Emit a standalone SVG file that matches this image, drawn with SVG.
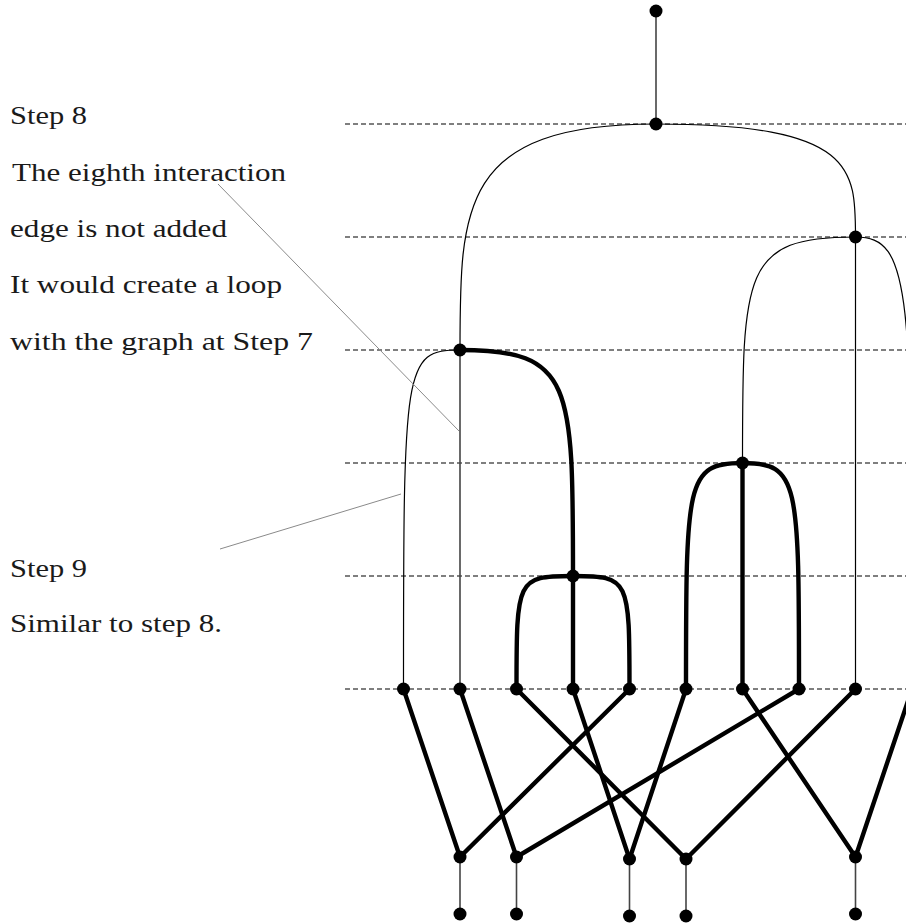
<svg xmlns="http://www.w3.org/2000/svg" width="906" height="923" viewBox="0 0 906 923">
<style>
.dash{stroke:#000;stroke-width:1.2;stroke-dasharray:5 3;fill:none}
.thin{stroke:#000;stroke-width:1.2;fill:none}
.vthin{stroke:#444;stroke-width:1.6;fill:none}
.thick{stroke:#000;stroke-width:4.4;fill:none;stroke-linecap:round}
.note{stroke:#8a8a8a;stroke-width:1;fill:none}
.dot{fill:#000}
text{font-family:"Liberation Serif","Times New Roman",serif;font-size:26px;fill:#1a1a1a}
</style>
<rect width="906" height="923" fill="#fff"/>
<g id="levels">
<line class="dash" x1="345" y1="124" x2="906" y2="124"/>
<line class="dash" x1="345" y1="237" x2="906" y2="237"/>
<line class="dash" x1="345" y1="350" x2="906" y2="350"/>
<line class="dash" x1="345" y1="463" x2="906" y2="463"/>
<line class="dash" x1="345" y1="576" x2="906" y2="576"/>
<line class="dash" x1="345" y1="689" x2="906" y2="689"/>
</g>
<g id="connectors">
<line class="vthin" x1="656" y1="11" x2="656" y2="124"/>
<path class="thin" d="M656,124 C460,124 460,207 460,350"/>
<path class="thin" d="M656,124 C855.5,124 855.5,169 855.5,237"/>
<path class="thin" d="M855.5,237 C742.5,237 742.5,271 742.5,463"/>
<path class="thin" d="M855.5,237 C912,237 912,291 912,689"/>
<line class="thin" x1="855.5" y1="237" x2="855.5" y2="689"/>
<line class="vthin" x1="460" y1="350" x2="460" y2="689"/>
<path class="thin" d="M460,350 C403.5,350 403.5,364 403.5,689"/>
<path class="thick" d="M460,350 C573,350 573,384 573,576"/>
<path class="thick" d="M573,576 C516.5,576 516.5,579 516.5,689"/>
<path class="thick" d="M573,576 C629.5,576 629.5,579 629.5,689"/>
<line class="thick" x1="573" y1="576" x2="573" y2="689"/>
<path class="thick" d="M742.5,463 C686,463 686,481 686,689"/>
<path class="thick" d="M742.5,463 C799,463 799,481 799,689"/>
<line class="thick" x1="742.5" y1="463" x2="742.5" y2="689"/>
<line class="thick" x1="403.5" y1="689" x2="460" y2="857"/>
<line class="thick" x1="460" y1="689" x2="516.5" y2="857"/>
<line class="thick" x1="516.5" y1="689" x2="686" y2="859"/>
<line class="thick" x1="573" y1="689" x2="629.5" y2="859"/>
<line class="thick" x1="629.5" y1="689" x2="460" y2="857"/>
<line class="thick" x1="686" y1="689" x2="629.5" y2="859"/>
<line class="thick" x1="742.5" y1="689" x2="855.5" y2="857"/>
<line class="thick" x1="799" y1="689" x2="516.5" y2="857"/>
<line class="thick" x1="855.5" y1="689" x2="686" y2="859"/>
<line class="thick" x1="912" y1="689" x2="855.5" y2="857"/>
<line class="vthin" x1="460" y1="857" x2="460" y2="914"/>
<line class="vthin" x1="516.5" y1="857" x2="516.5" y2="914"/>
<line class="vthin" x1="629.5" y1="859" x2="629.5" y2="916"/>
<line class="vthin" x1="686" y1="859" x2="686" y2="916"/>
<line class="vthin" x1="855.5" y1="857" x2="855.5" y2="914"/>
</g>
<g id="annotations">
<line class="note" x1="218" y1="184" x2="459" y2="431"/>
<line class="note" x1="220" y1="549" x2="401" y2="494"/>
</g>
<g id="n-top"><circle class="dot" cx="656" cy="11" r="6.5"/></g>
<g id="n-root"><circle class="dot" cx="656" cy="124" r="6.5"/></g>
<g id="n-l2"><circle class="dot" cx="855.5" cy="237" r="6.5"/></g>
<g id="n-l3"><circle class="dot" cx="460" cy="350" r="6.5"/></g>
<g id="n-l4"><circle class="dot" cx="742.5" cy="463" r="6.5"/></g>
<g id="n-l5"><circle class="dot" cx="573" cy="576" r="6.5"/></g>
<g id="n-a1"><circle class="dot" cx="403.5" cy="689" r="6.5"/></g>
<g id="n-a2"><circle class="dot" cx="460" cy="689" r="6.5"/></g>
<g id="n-a3"><circle class="dot" cx="516.5" cy="689" r="6.5"/></g>
<g id="n-a4"><circle class="dot" cx="573" cy="689" r="6.5"/></g>
<g id="n-a5"><circle class="dot" cx="629.5" cy="689" r="6.5"/></g>
<g id="n-a6"><circle class="dot" cx="686" cy="689" r="6.5"/></g>
<g id="n-a7"><circle class="dot" cx="742.5" cy="689" r="6.5"/></g>
<g id="n-a8"><circle class="dot" cx="799" cy="689" r="6.5"/></g>
<g id="n-a9"><circle class="dot" cx="855.5" cy="689" r="6.5"/></g>
<g id="n-b1"><circle class="dot" cx="460" cy="857" r="6.5"/></g>
<g id="n-b2"><circle class="dot" cx="516.5" cy="857" r="6.5"/></g>
<g id="n-b3"><circle class="dot" cx="629.5" cy="859" r="6.5"/></g>
<g id="n-b4"><circle class="dot" cx="686" cy="859" r="6.5"/></g>
<g id="n-b5"><circle class="dot" cx="855.5" cy="857" r="6.5"/></g>
<g id="n-c1"><circle class="dot" cx="460" cy="914" r="6.5"/></g>
<g id="n-c2"><circle class="dot" cx="516.5" cy="914" r="6.5"/></g>
<g id="n-c3"><circle class="dot" cx="629.5" cy="916" r="6.5"/></g>
<g id="n-c4"><circle class="dot" cx="686" cy="916" r="6.5"/></g>
<g id="n-c5"><circle class="dot" cx="855.5" cy="914" r="6.5"/></g>
<g id="labels">
<text x="10" y="124" textLength="77" lengthAdjust="spacingAndGlyphs">Step 8</text>
<text x="12" y="181" textLength="274" lengthAdjust="spacingAndGlyphs">The eighth interaction</text>
<text x="10" y="237" textLength="217" lengthAdjust="spacingAndGlyphs">edge is not added</text>
<text x="10" y="293" textLength="272" lengthAdjust="spacingAndGlyphs">It would create a loop</text>
<text x="10" y="350" textLength="303" lengthAdjust="spacingAndGlyphs">with the graph at Step 7</text>
<text x="10" y="577" textLength="77" lengthAdjust="spacingAndGlyphs">Step 9</text>
<text x="10" y="632" textLength="212" lengthAdjust="spacingAndGlyphs">Similar to step 8.</text>
</g>
</svg>
